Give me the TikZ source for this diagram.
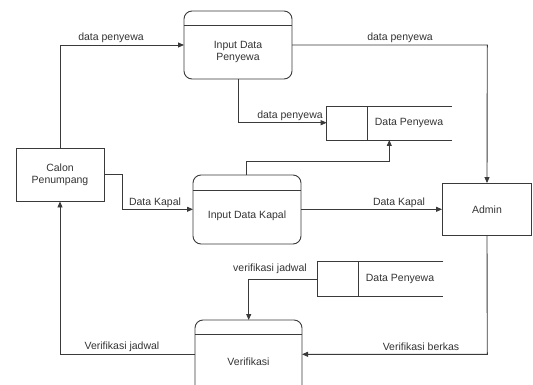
\documentclass[tikz,border=0pt]{standalone}
\usepackage{fontspec}
\setmainfont{Liberation Sans}
\usetikzlibrary{arrows.meta}
\definecolor{ln}{HTML}{3A3A3A}
\definecolor{tx}{HTML}{333333}
\begin{document}
\begin{tikzpicture}[x=1pt,y=-1pt,
  every node/.style={font=\fontsize{10.5}{12}\selectfont,text=tx},
  flow/.style={draw=ln,line width=0.9pt,-{Triangle[length=6pt,width=5pt]}},
  plain/.style={draw=ln,line width=0.9pt},
  ent/.style={draw=ln,line width=0.9pt,minimum width=88pt,minimum height=53pt,inner sep=0pt,align=center},
  lbl/.style={inner sep=1pt}]
\useasboundingbox (0,0) rectangle (533,385);
\clip (0,0) rectangle (533,385);
% entities
\node[ent] (calon) at (60,174.5) {Calon\\Penumpang};
\node[ent,minimum width=89pt,minimum height=52pt] (admin) at (487,209.5) {Admin};
% processes
\draw[plain,rounded corners=8pt] (184,11) rectangle (292,79);
\draw[plain] (184,25) -- (292,25);
\node[align=center] (idp) at (238,52) {Input Data\\Penyewa};
\coordinate (idpL) at (184,45);
\coordinate (idpR) at (292,45);
\coordinate (idpB) at (238,79);
\draw[plain,rounded corners=8pt] (193,175) rectangle (301,244);
\draw[plain] (193,190) -- (301,190);
\node (idk) at (247,216) {Input Data Kapal};
\coordinate (idkL) at (193,209.3);
\coordinate (idkR) at (301,209.3);
\coordinate (idkT) at (246.7,175);
\draw[plain,rounded corners=8pt] (195,320) rectangle (302,400);
\draw[plain] (195,334.5) -- (302,334.5);
\node (ver) at (248.5,362) {Verifikasi};
\coordinate (verL) at (195,354.3);
\coordinate (verR) at (302,354.3);
\coordinate (verT) at (248.7,320);
% data stores
\draw[plain] (451.7,106) -- (326.7,106) -- (326.7,140) -- (451.7,140);
\draw[plain] (367.3,106) -- (367.3,140);
\node (ds1) at (409,123) {Data Penyewa};
\coordinate (ds1L) at (326.7,122.7);
\coordinate (ds1B) at (389.3,140);
\draw[plain] (443.3,261.3) -- (317.7,261.3) -- (317.7,296.3) -- (443.3,296.3);
\draw[plain] (358.7,261.3) -- (358.7,296.3);
\node (ds2) at (400,279) {Data Penyewa};
\coordinate (ds2L) at (317.7,279);
% flows
\draw[flow] (calon.north) -- (60,45) -- (idpL);
\node[lbl] at (111,38) {data penyewa};
\draw[flow] (idpR) -- (487.3,45) -- (admin.north);
\node[lbl] at (400,38) {data penyewa};
\draw[flow] (idpB) -- (238,122.7) -- (ds1L);
\node[lbl] at (290,116) {data penyewa};
\draw[flow] (idkT) -- (246.7,161.7) -- (389.3,161.7) -- (ds1B);
\draw[flow] (104,174.3) -- (122,174.3) -- (122,209.3) -- (idkL);
\node[lbl] at (155,202.5) {Data Kapal};
\draw[flow] (idkR) -- (admin.west |- idkR);
\node[lbl] at (399,202.5) {Data Kapal};
\draw[flow] (ds2L) -- (248.7,279) -- (verT);
\node[lbl] at (270,269) {verifikasi jadwal};
\draw[flow] (verL) -- (60,354.3) -- (calon.south);
\node[lbl] at (122,347) {Verifikasi jadwal};
\draw[flow] (admin.south) -- (487.3,354.3) -- (verR);
\node[lbl] at (421,347) {Verifikasi berkas};
\end{tikzpicture}
\end{document}
